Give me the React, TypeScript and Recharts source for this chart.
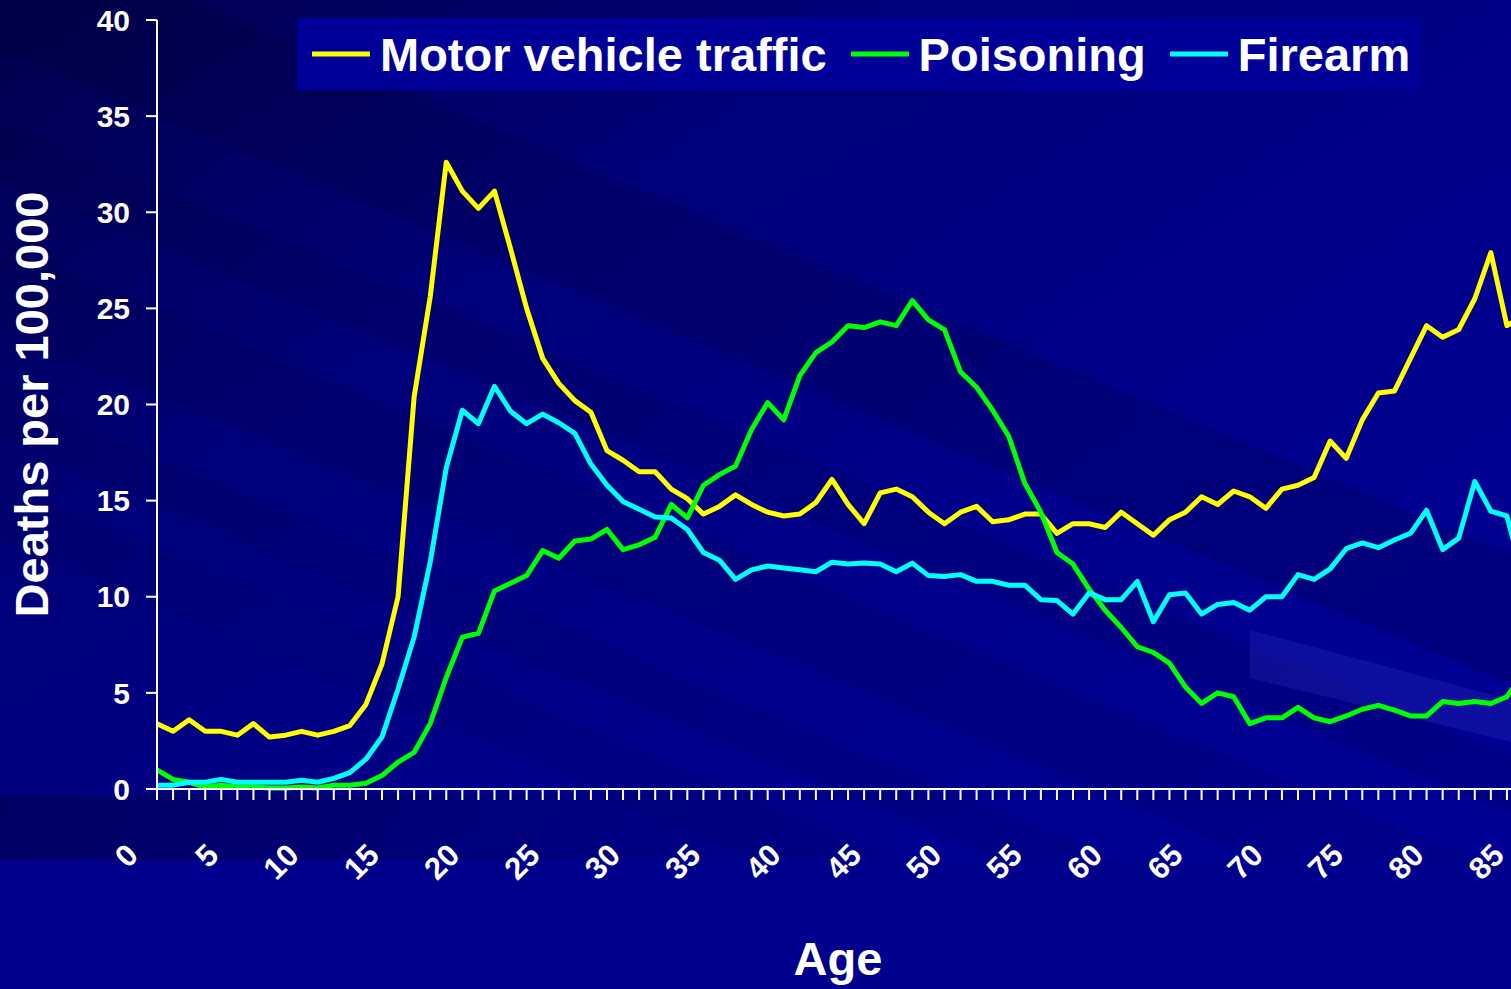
import React from 'react';
import { LineChart, Line, XAxis, YAxis, Legend, Label } from 'recharts';

const ages = [
  0, 1, 2, 3, 4, 5, 6, 7, 8, 9, 10, 11, 12, 13, 14, 15, 16, 17, 18, 19, 20,
  21, 22, 23, 24, 25, 26, 27, 28, 29, 30, 31, 32, 33, 34, 35, 36, 37, 38, 39, 40,
  41, 42, 43, 44, 45, 46, 47, 48, 49, 50, 51, 52, 53, 54, 55, 56, 57, 58, 59, 60,
  61, 62, 63, 64, 65, 66, 67, 68, 69, 70, 71, 72, 73, 74, 75, 76, 77, 78, 79, 80,
  81, 82, 83, 84, 85,
];

const motorVehicle = [
  3.4, 3.0, 3.6, 3.0, 3.0, 2.8, 3.4, 2.7, 2.8, 3.0, 2.8, 3.0, 3.3, 4.4, 6.5, 10.0,
  20.4, 25.6, 32.6, 31.1, 30.2, 31.1, 28.1, 25.0, 22.4, 21.1, 20.2, 19.6, 17.6, 17.1,
  16.5, 16.5, 15.6, 15.1, 14.3, 14.7, 15.3, 14.8, 14.4, 14.2, 14.3, 14.9, 16.1, 14.8,
  13.8, 15.4, 15.6, 15.2, 14.4, 13.8, 14.4, 14.7, 13.9, 14.0, 14.3, 14.3, 13.3, 13.8,
  13.8, 13.6, 14.4, 13.8, 13.2, 14.0, 14.4, 15.2, 14.8, 15.5, 15.2, 14.6, 15.6, 15.8,
  16.2, 18.1, 17.2, 19.2, 20.6, 20.7, 22.4, 24.1, 23.5, 23.9, 25.5, 27.9, 24.1, 24.6,
];

const poisoning = [
  1.0, 0.5, 0.35, 0.1, 0.2, 0.1, 0.1, 0.05, 0.05, 0.1, 0.05, 0.2, 0.2, 0.3, 0.7, 1.4,
  1.9, 3.4, 5.8, 7.9, 8.1, 10.3, 10.7, 11.1, 12.4, 12.0, 12.9, 13.0, 13.5, 12.45,
  12.7, 13.1, 14.8, 14.1, 15.8, 16.35, 16.8, 18.7, 20.1, 19.2, 21.5, 22.7, 23.25, 24.1,
  24.0, 24.3, 24.1, 25.4, 24.4, 23.9, 21.7, 20.9, 19.7, 18.35, 15.9, 14.4, 12.3, 11.7,
  10.4, 9.3, 8.4, 7.4, 7.1, 6.55, 5.3, 4.45, 5.0, 4.8, 3.4, 3.7, 3.7, 4.25,
  3.7, 3.5, 3.8, 4.15, 4.35, 4.1, 3.8, 3.8, 4.55, 4.45, 4.55, 4.45, 4.8, 6.0,
];

const firearm = [
  0.2, 0.2, 0.35, 0.35, 0.5, 0.35, 0.35, 0.35, 0.35, 0.45, 0.35, 0.55, 0.85, 1.55, 2.7, 5.2,
  7.9, 11.8, 16.7, 19.7, 19.0, 20.95, 19.65, 19.0, 19.5, 19.05, 18.5, 16.9, 15.8, 14.95,
  14.55, 14.15, 14.1, 13.5, 12.3, 11.9, 10.9, 11.4, 11.6, 11.5, 11.4, 11.3, 11.8, 11.7,
  11.75, 11.7, 11.3, 11.75, 11.1, 11.05, 11.15, 10.8, 10.8, 10.6, 10.6, 9.85, 9.8, 9.1,
  10.2, 9.85, 9.85, 10.8, 8.7, 10.1, 10.2, 9.1, 9.6, 9.7, 9.3, 10.0, 10.0, 11.15,
  10.9, 11.45, 12.5, 12.8, 12.55, 12.95, 13.3, 14.5, 12.45, 13.05, 16.0, 14.45, 14.2, 11.0,
];

const yTicks = [0, 5, 10, 15, 20, 25, 30, 35, 40];
const labelEvery = 5;

const seriesNames = ['Motor vehicle traffic', 'Poisoning', 'Firearm'];
const seriesColors = ['#FFFF00', '#00FF00', '#00FFFF'];
const seriesKeys = ['motor', 'poisoning', 'firearm'];

const data = ages.map((age, i) => ({
  age,
  motor: motorVehicle[i],
  poisoning: poisoning[i],
  firearm: firearm[i],
}));

const FONT = '"Liberation Sans", Arial, Helvetica, sans-serif';

const XTick = (props: any) => {
  const { x, y, payload } = props;
  if (payload.value % labelEvery !== 0) return <g />;
  const px = x - 17;
  const py = y + 57;
  return (
    <text
      x={px}
      y={py}
      transform={`rotate(-45 ${px} ${py})`}
      textAnchor="end"
      fill="#FFFFFF"
      fontFamily={FONT}
      fontWeight="bold"
      fontSize={31}
    >
      {payload.value}
    </text>
  );
};

const LegendContent = () => (
  <div
    style={{
      background: '#000098',
      width: 1124,
      height: 72,
      display: 'flex',
      alignItems: 'center',
      boxSizing: 'border-box',
      paddingLeft: 15,
      fontFamily: FONT,
      fontWeight: 'bold',
      fontSize: 47,
      color: '#FFFFFF',
      whiteSpace: 'nowrap',
    }}
  >
    {seriesNames.map((name, i) => (
      <div key={name} style={{ display: 'flex', alignItems: 'center', marginLeft: i ? 24 : 0 }}>
        <svg width={58} height={8} style={{ display: 'block' }}>
          <line x1={0} y1={4} x2={58} y2={4} stroke={seriesColors[i]} strokeWidth={5} />
        </svg>
        <span style={{ marginLeft: 10, lineHeight: 1 }}>{name}</span>
      </div>
    ))}
  </div>
);

const YTitle = (props: any) => {
  const vb = props.viewBox || { x: 0, y: 0, width: 0, height: 0 };
  const cx = 48;
  const cy = vb.y + vb.height / 2;
  return (
    <text
      x={cx}
      y={cy}
      transform={`rotate(-90 ${cx} ${cy})`}
      textAnchor="middle"
      fill="#FFFFFF"
      fontFamily={FONT}
      fontWeight="bold"
      fontSize={47}
    >
      Deaths per 100,000
    </text>
  );
};

const XTitle = (props: any) => {
  const vb = props.viewBox || { x: 0, y: 0, width: 0, height: 0 };
  const cx = vb.x + vb.width / 2 - 2;
  return (
    <text x={cx} y={975} textAnchor="middle" fill="#FFFFFF" fontFamily={FONT} fontWeight="bold" fontSize={47}>
      Age
    </text>
  );
};

const bands = [
  { y0: -80, h: 130, op: 0.2 },
  { y0: 120, h: 60, op: 0.14 },
  { y0: 240, h: 90, op: 0.12 },
  { y0: 390, h: 50, op: 0.1 },
  { y0: 480, h: 60, op: 0.08 },
];

const Background = () => {
  const W = 1511;
  const slope = 0.42;
  return (
    <svg width={1511} height={989} style={{ position: 'absolute', left: 0, top: 0 }}>
      <defs>
        <linearGradient id="bgGrad" x1="0" y1="0" x2="1" y2="1">
          <stop offset="0" stopColor="#00004c" />
          <stop offset="0.3" stopColor="#00007a" />
          <stop offset="0.6" stopColor="#00008c" />
          <stop offset="1" stopColor="#000098" />
        </linearGradient>
        <linearGradient id="lowGrad" x1="0" y1="0" x2="1" y2="0">
          <stop offset="0" stopColor="#000050" stopOpacity="0.6" />
          <stop offset="0.6" stopColor="#000050" stopOpacity="0" />
        </linearGradient>
      </defs>
      <rect x={0} y={0} width={1511} height={989} fill="url(#bgGrad)" />
      {bands.map((b, i) => (
        <polygon
          key={i}
          points={`0,${b.y0} ${W},${b.y0 + W * slope} ${W},${b.y0 + W * slope + b.h} 0,${b.y0 + b.h}`}
          fill="#000030"
          opacity={b.op}
        />
      ))}
      <rect x={0} y={795} width={1511} height={65} fill="url(#lowGrad)" />
      <rect x={0} y={860} width={1511} height={129} fill="#00008c" />
      <polygon points="1250,630 1511,700 1511,742 1250,678" fill="#3030c0" opacity={0.3} />
    </svg>
  );
};

export default function App() {
  return (
    <div
      style={{
        position: 'absolute',
        left: 0,
        top: 0,
        width: 1511,
        height: 989,
        overflow: 'hidden',
        background: '#000080',
      }}
    >
      <Background />
      <div style={{ position: 'absolute', left: 0, top: 0 }}>
        <LineChart
          width={1560}
          height={989}
          data={data}
          margin={{ top: 20, right: 37, bottom: 0, left: 0 }}
        >
          <XAxis
            dataKey="age"
            type="number"
            domain={[0, 85]}
            ticks={ages}
            interval={0}
            height={200}
            tickSize={11}
            tickMargin={0}
            stroke="#FFFFFF"
            strokeWidth={2}
            tickLine={{ stroke: '#FFFFFF', strokeWidth: 2 }}
            axisLine={{ stroke: '#FFFFFF', strokeWidth: 2 }}
            tick={<XTick />}
          >
            <Label content={<XTitle />} />
          </XAxis>
          <YAxis
            type="number"
            domain={[0, 40]}
            ticks={yTicks}
            interval={0}
            width={157}
            tickSize={11}
            tickMargin={16}
            stroke="#FFFFFF"
            strokeWidth={2}
            tickLine={{ stroke: '#FFFFFF', strokeWidth: 2 }}
            axisLine={{ stroke: '#FFFFFF', strokeWidth: 2 }}
            tick={{ fill: '#FFFFFF', fontFamily: FONT, fontWeight: 'bold', fontSize: 30 }}
          >
            <Label content={<YTitle />} />
          </YAxis>
          <Legend
            layout="horizontal"
            verticalAlign="middle"
            align="center"
            wrapperStyle={{ top: 18, left: 297, width: 1124, height: 72 }}
            content={<LegendContent />}
          />
          {seriesKeys.map((k, i) => (
            <Line
              key={k}
              type="linear"
              dataKey={k}
              name={seriesNames[i]}
              stroke={seriesColors[i]}
              strokeWidth={5}
              strokeLinejoin="round"
              dot={false}
              activeDot={false}
              isAnimationActive={false}
            />
          ))}
        </LineChart>
      </div>
    </div>
  );
}
